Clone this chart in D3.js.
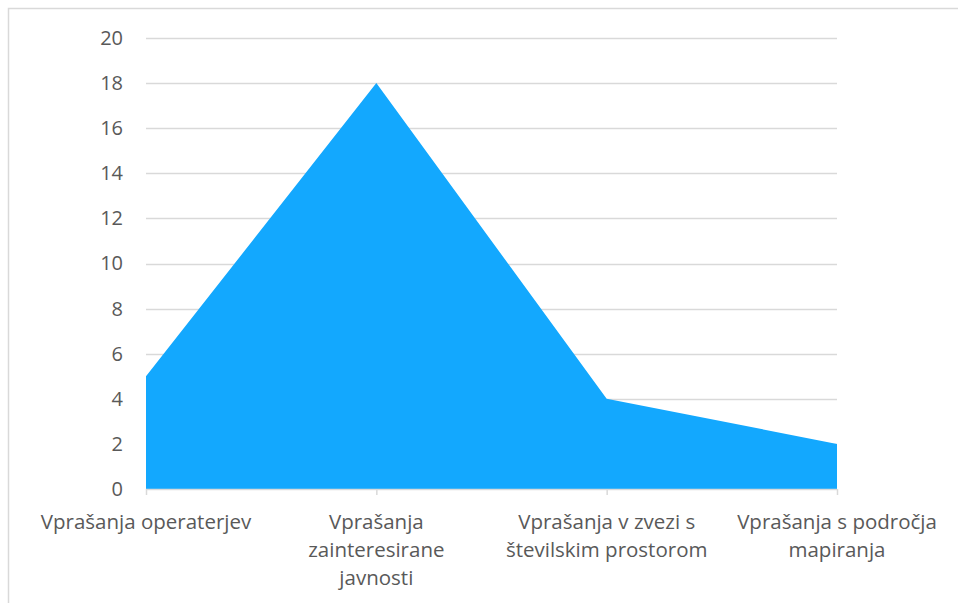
<!DOCTYPE html>
<html>
<head>
<meta charset="utf-8">
<script src="https://cdn.jsdelivr.net/npm/d3@7"></script>
<style>
  body { margin: 0; background: #fff; }
  svg text { font-family: "Open Sans", "Liberation Sans", sans-serif; fill: #595959; }
</style>
</head>
<body>
<div id="chart"></div>
<script>
// categories (line breaks as in the original labels)
const categories = [
  "Vprašanja operaterjev",
  "Vprašanja\nzainteresirane\njavnosti",
  "Vprašanja v zvezi s\nštevilskim prostorom",
  "Vprašanja s področja\nmapiranja"
];
const values = [5, 18, 4, 2];
const yTicks = [0, 2, 4, 6, 8, 10, 12, 14, 16, 18, 20];

const svgWidth = 958, svgHeight = 603;
const margin = { top: 38, right: 121, bottom: 114, left: 146 };
const width = svgWidth - margin.left - margin.right;
const height = svgHeight - margin.top - margin.bottom;

const svg = d3.select("#chart").append("svg")
  .attr("width", svgWidth)
  .attr("height", svgHeight);

// chart frame (cropped on right and bottom)
svg.append("rect")
  .attr("x", 8.5).attr("y", 8.5)
  .attr("width", 1200).attr("height", 1200)
  .attr("fill", "none")
  .attr("stroke", "#d9d9d9")
  .attr("stroke-width", 1.5);

const g = svg.append("g")
  .attr("transform", "translate(" + margin.left + "," + margin.top + ")");

const x = d3.scalePoint()
  .domain(categories)
  .range([0, width]);

const y = d3.scaleLinear()
  .domain([0, 20])
  .range([height, 0]);

// gridlines
g.selectAll(".grid")
  .data(yTicks.filter(d => d > 0))
  .enter().append("line")
  .attr("class", "grid")
  .attr("x1", 0).attr("x2", width)
  .attr("y1", d => Math.round(y(d)) + 0.5)
  .attr("y2", d => Math.round(y(d)) + 0.5)
  .attr("stroke", "#d9d9d9")
  .attr("stroke-width", 1.5);

// area
const area = d3.area()
  .x((d, i) => x(categories[i]))
  .y0(y(0))
  .y1(d => y(d));

g.append("path")
  .datum(values)
  .attr("fill", "#13a8fe")
  .attr("d", area);

// y axis labels
const yAxis = d3.axisLeft(y).tickValues(yTicks).tickSize(0).tickPadding(23);
const yg = g.append("g").call(yAxis);
yg.select(".domain").remove();
yg.selectAll("text")
  .style("font-size", "20px")
  .attr("fill", "#595959");

// x axis
const xAxis = d3.axisBottom(x).tickSize(6).tickFormat("");
const xg = g.append("g")
  .attr("transform", "translate(0," + height + ")")
  .call(xAxis);
xg.select(".domain").attr("stroke", "#d9d9d9").attr("stroke-width", 1.5)
  .attr("d", "M0,0.5H" + width);
xg.selectAll(".tick line").attr("stroke", "#d9d9d9").attr("stroke-width", 1.5);

// category labels, multi-line
const labels = g.selectAll(".xlabel")
  .data(categories)
  .enter().append("text")
  .attr("class", "xlabel")
  .attr("text-anchor", "middle")
  .attr("transform", d => "translate(" + x(d) + "," + (height + 40) + ")")
  .style("font-size", "20.5px");

labels.each(function (d) {
  const lines = d.split("\n");
  d3.select(this).selectAll("tspan")
    .data(lines)
    .enter().append("tspan")
    .attr("x", 0)
    .attr("dy", (l, i) => i === 0 ? 0 : 28)
    .text(l => l);
});
</script>
</body>
</html>
